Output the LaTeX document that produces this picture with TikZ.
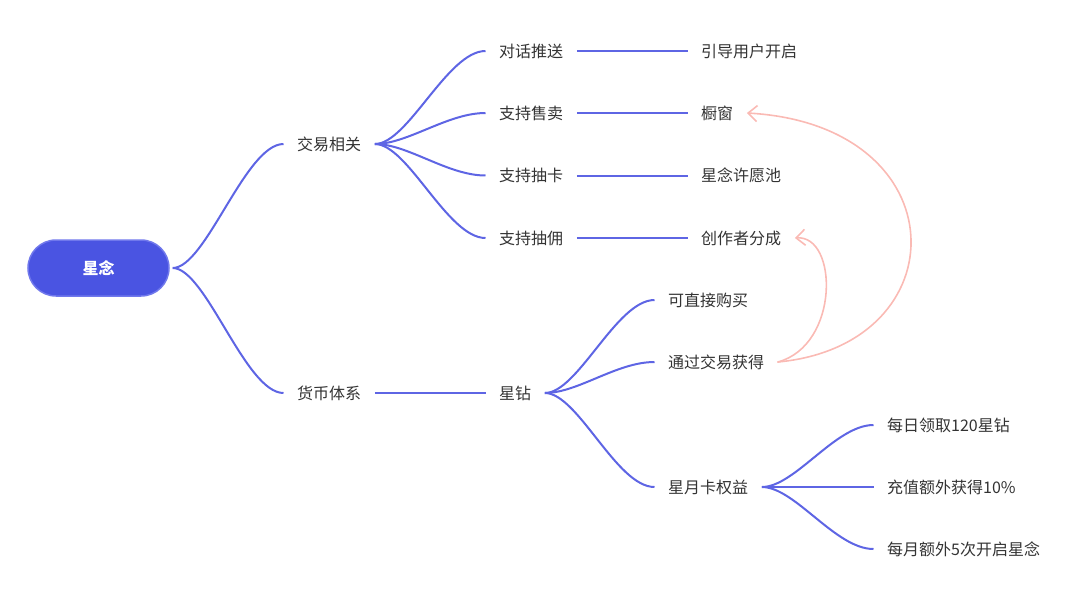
\documentclass[tikz,border=0pt]{standalone}
\usepackage{fontspec}
\setmainfont{Noto Sans CJK SC}
\usetikzlibrary{arrows.meta}
\definecolor{lineblue}{RGB}{94,101,228}
\definecolor{rootfill}{RGB}{74,84,226}
\definecolor{rootborder}{RGB}{112,120,236}
\definecolor{pinkarc}{RGB}{250,186,180}
\definecolor{txt}{RGB}{51,51,51}
\begin{document}
\begin{tikzpicture}[x=1pt,y=-1pt,
  lbl/.style={anchor=west, inner xsep=13.5pt, inner ysep=0pt, text height=13pt, text depth=1pt, font=\fontsize{16}{16}\selectfont, text=txt},
  branch/.style={draw=lineblue, line width=2pt},
  link/.style={draw=pinkarc, line width=1.6pt, line cap=round, -{Straight Barb[length=9pt,width=16pt]}},
  rootbox/.style={fill=rootfill, draw=rootborder, line width=1.5pt, rounded corners=28pt, minimum width=141pt, minimum height=56pt, text=white, font=\fontsize{16}{16}\selectfont\bfseries}
]
\useasboundingbox (0,0) rectangle (1080,598);

\node[rootbox] (r) at (98.5,268) {星念};
\node[lbl] (jy) at (283.5,144) {交易相关};
\node[lbl] (hb) at (283.5,393) {货币体系};
\node[lbl] (dh) at (485.5,51) {对话推送};
\node[lbl] (sm) at (485.5,113) {支持售卖};
\node[lbl] (ck) at (485.5,175.5) {支持抽卡};
\node[lbl] (cy) at (485.5,238) {支持抽佣};
\node[lbl] (yd) at (687.5,51) {引导用户开启};
\node[lbl] (cc) at (687.5,113) {橱窗};
\node[lbl] (xy) at (687.5,175.5) {星念许愿池};
\node[lbl] (fc) at (687.5,238) {创作者分成};
\node[lbl] (xz) at (485.5,393) {星钻};
\node[lbl] (gm) at (654.5,300) {可直接购买};
\node[lbl] (jh) at (654.5,362) {通过交易获得};
\node[lbl] (yk) at (654.5,487) {星月卡权益};
\node[lbl] (lq) at (873.5,425) {每日领取120星钻};
\node[lbl] (cz) at (873.5,487) {充值额外获得10\%};
\node[lbl] (kq) at (873.5,549) {每月额外5次开启星念};

\draw[branch] ([xshift=3pt]r.east) .. controls +(33,0) and +(-38,0) .. (jy.west);
\draw[branch] ([xshift=3pt]r.east) .. controls +(33,0) and +(-38,0) .. (hb.west);

\draw[branch] (jy.east) .. controls +(33,0) and +(-38,0) .. (dh.west);
\draw[branch] (jy.east) .. controls +(33,0) and +(-38,0) .. (sm.west);
\draw[branch] (jy.east) .. controls +(33,0) and +(-38,0) .. (ck.west);
\draw[branch] (jy.east) .. controls +(33,0) and +(-38,0) .. (cy.west);

\draw[branch] (dh.east) -- (yd.west);
\draw[branch] (sm.east) -- (cc.west);
\draw[branch] (ck.east) -- (xy.west);
\draw[branch] (cy.east) -- (fc.west);

\draw[branch] (hb.east) -- (xz.west);

\draw[branch] (xz.east) .. controls +(33,0) and +(-38,0) .. (gm.west);
\draw[branch] (xz.east) .. controls +(33,0) and +(-38,0) .. (jh.west);
\draw[branch] (xz.east) .. controls +(33,0) and +(-38,0) .. (yk.west);

\draw[branch] (yk.east) .. controls +(33,0) and +(-38,0) .. (lq.west);
\draw[branch] (yk.east) -- (cz.west);
\draw[branch] (yk.east) .. controls +(33,0) and +(-38,0) .. (kq.west);

\draw[link] (jh.east) .. controls (960,345) and (960,125) .. (cc.east);
\draw[link] (jh.east) .. controls (840,345) and (838,235) .. (fc.east);
\end{tikzpicture}
\end{document}
